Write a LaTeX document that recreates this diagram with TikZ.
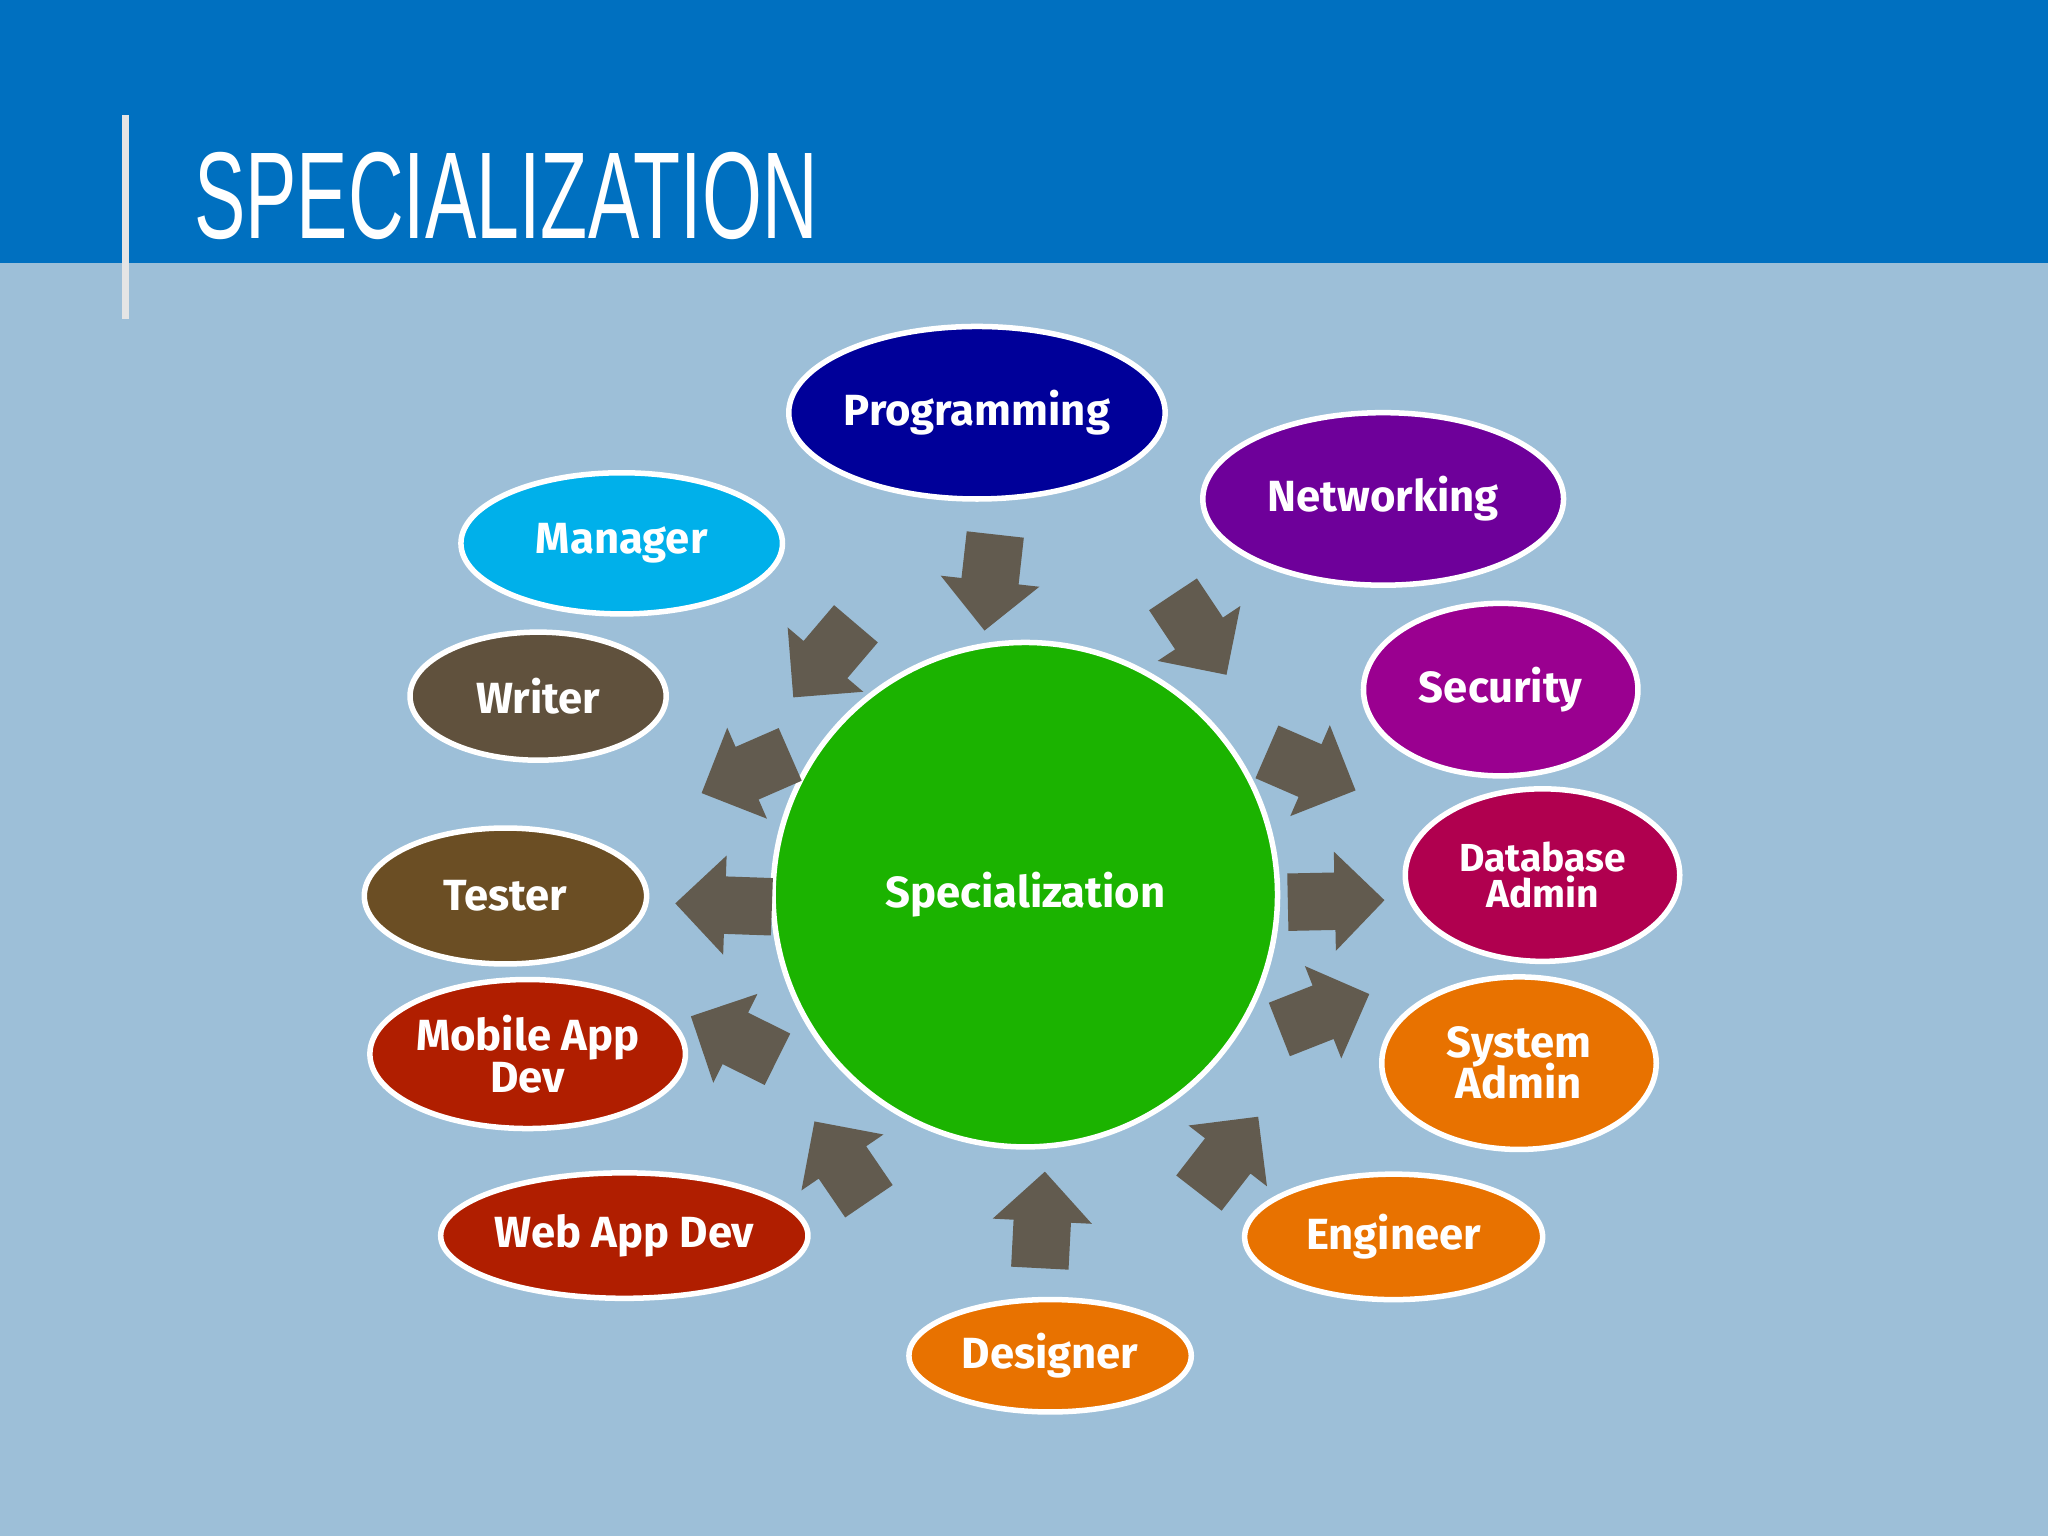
\documentclass[tikz,border=0pt]{standalone}
\usepackage{fontspec}
\setmainfont{Fira Sans}
\usetikzlibrary{shapes.geometric}
\definecolor{bgc}{HTML}{9DBFD8}
\definecolor{barc}{HTML}{0070C0}
\definecolor{arrc}{HTML}{625B4F}
\newcommand{\myell}[7]{\node[ell,fill=#6,minimum width=#4*0.02cm,minimum height=#5*0.02cm] (#1) at (#2,#3) {#7};}
\newcommand{\myarr}[4]{\draw[fill=arrc,draw=none,rotate around={#3:(#1,#2)}] (#1,#2) ++(-36,22) coordinate(#4) -- ++(36,0) -- ++(0,16) -- ++(38,-38) -- ++(-38,-38) -- ++(0,16) -- ++(-36,0) -- cycle;}
\begin{document}
\begin{tikzpicture}[x=0.01cm,y=-0.01cm,
 ell/.style={ellipse,draw=white,line width=1.2pt,inner sep=0pt,text=white,font=\bfseries\fontsize{9.5}{10}\selectfont,align=center}]
\useasboundingbox (0,0) rectangle (1568,1176);
\fill[bgc] (0,0) rectangle (1568,1176);
\fill[barc] (0,0) rectangle (1568,201);
\draw[white!80!gray,line width=1.5pt] (96,88) -- (96,244);
\node[anchor=west,text=white,inner sep=0pt] (title) at (148,150) {\resizebox{4.77cm}{0.66cm}{\fontspec{Liberation Sans}SPECIALIZATION}};
\node[circle,fill={rgb,255:red,27;green,179;blue,0},draw=white,line width=1.2pt,minimum size=3.86cm,text=white,font=\bfseries\fontsize{9.5}{10}\selectfont] (c) at (785,685) {Specialization};
\myell{p}{748}{316}{143}{66}{{rgb,255:red,0;green,0;blue,153}}{Programming}
\myell{n}{1059}{382}{138}{66}{{rgb,255:red,110;green,0;blue,154}}{Networking}
\myell{s}{1149}{528}{105}{66}{{rgb,255:red,154;green,0;blue,144}}{Security}
\myell{d}{1181}{670}{105}{66}{{rgb,255:red,176;green,0;blue,79}}{\fontsize{8.5}{9}\selectfont Database\\[-2pt]\fontsize{8.5}{9}\selectfont Admin}
\myell{sa}{1163}{814}{105}{66}{{rgb,255:red,232;green,114;blue,0}}{System\\[-1pt] Admin}
\myell{e}{1067}{947}{114}{48}{{rgb,255:red,232;green,114;blue,0}}{Engineer}
\myell{de}{804}{1038}{108}{43}{{rgb,255:red,232;green,114;blue,0}}{Designer}
\myell{w}{478}{946}{136}{48}{{rgb,255:red,176;green,30;blue,0}}{Web App Dev}
\myell{m}{404}{807}{118}{57}{{rgb,255:red,176;green,30;blue,0}}{Mobile App\\[-1pt] Dev}
\myell{t}{387}{686}{108}{52}{{rgb,255:red,107;green,78;blue,36}}{Tester}
\myell{wr}{412}{533}{98}{49}{{rgb,255:red,96;green,81;blue,61}}{Writer}
\myell{ma}{476}{416}{123}{54}{{rgb,255:red,0;green,176;blue,234}}{Manager}
\myarr{758}{445}{-96.4}{a1}
\myarr{918}{485}{-56.4}{a2}
\myarr{1003}{590}{-23.5}{a3}
\myarr{1022}{690}{1.2}{a4}
\myarr{1013}{775}{21.5}{a5}
\myarr{940}{885}{52.2}{a6}
\myarr{798}{935}{87}{a7}
\myarr{645}{890}{124.3}{a8}
\myarr{563}{795}{153.6}{a9}
\myarr{555}{693}{178}{a10}
\myarr{572}{592}{-156.4}{a11}
\myarr{632}{505}{-130.4}{a12}
\end{tikzpicture}
\end{document}
